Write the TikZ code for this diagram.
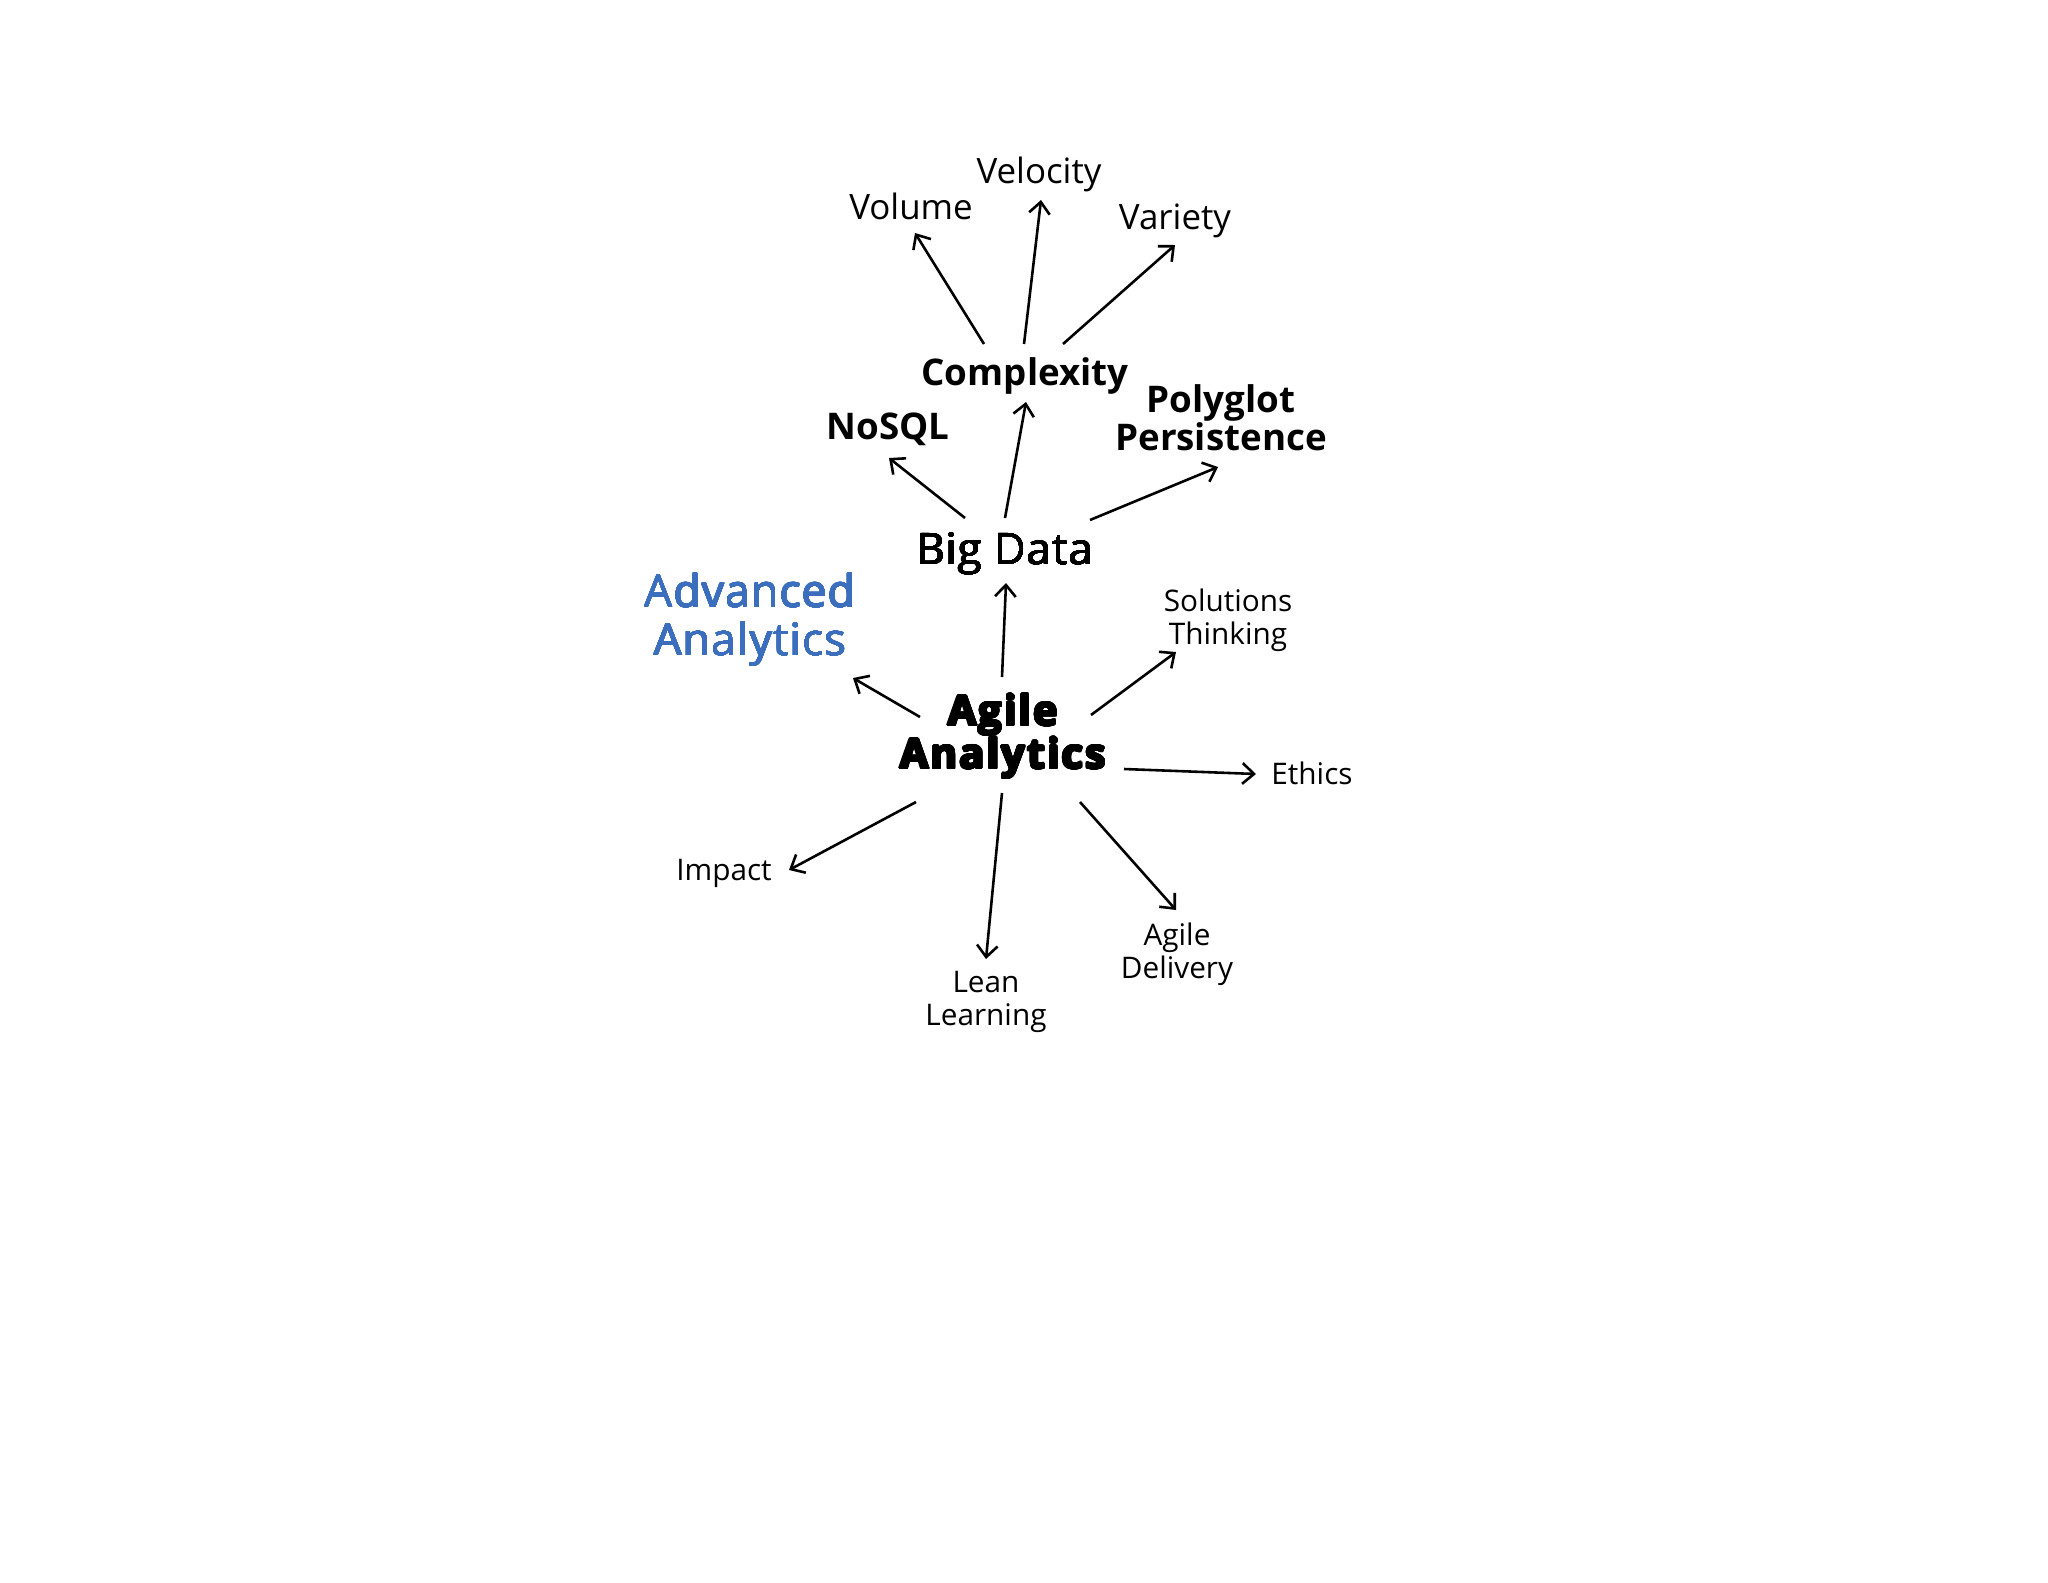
\documentclass[tikz,border=0pt]{standalone}
\usepackage{fontspec}
\usepackage[copies]{contour}
\setmainfont{Open Sans}
\newfontfamily\widefont{Open Sans}[LetterSpace=2.5]
\newfontfamily\heavyfont{Open Sans}[LetterSpace=5]
\usetikzlibrary{arrows.meta}
\definecolor{advblue}{HTML}{3C6EBE}
\contournumber{24}
\newcommand{\heavytext}[1]{\contourlength{0.42pt}\contour{black}{#1}}
\newcommand{\semitext}[2]{\contourlength{0.14pt}\contour{#1}{#2}}
\begin{document}
\begin{tikzpicture}[x=0.3867pt, y=-0.3867pt]
	\tikzstyle{small} = [align=center, inner sep=0pt, font=\fontsize{11.5}{12.6}\selectfont]
	\tikzstyle{mid} = [align=center, inner sep=0pt, font=\fontsize{13.5}{15}\selectfont]
	\tikzstyle{head} = [align=center, inner sep=0pt, font=\bfseries\fontsize{14.2}{14.6}\selectfont]
	\tikzstyle{arrow} = [line width=1pt, -{Straight Barb[length=4.5pt, width=8pt]}]
	\useasboundingbox [fill=white] (0,0) rectangle (2048,1582);

	% big data branch
	\node (vol) [mid] at (911,206) {Volume};
	\node (vel) [mid] at (1039,174) {Velocity};
	\node (var) [mid] at (1175,221) {Variety};
	\node (cx) [head] at (1025,376) {Complexity};
	\node (nosql) [head] at (888,429) {NoSQL};
	\node (poly) [head] at (1221,418) {Polyglot\\Persistence};
	\node (bd) [inner sep=0pt, font=\widefont\fontsize{16.8}{18}\selectfont] at (1005,554) {\semitext{black}{Big Data}};

	% agile analytics
	\node (adv) [align=center, inner sep=0pt, text=advblue, font=\widefont\fontsize{17.2}{18.7}\selectfont] at (750,620)
		{\semitext{advblue}{Advanced}\\\semitext{advblue}{Analytics}};
	\node (ag) [align=center, inner sep=0pt, font=\heavyfont\bfseries\fontsize{16}{16.7}\selectfont] at (1003,737)
		{\heavytext{Agile}\\\heavytext{Analytics}};
	\node (sol) [small] at (1228,620) {Solutions\\Thinking};
	\node (eth) [small] at (1312,773) {Ethics};
	\node (imp) [small] at (724,873) {Impact};
	\node (lean) [small] at (986,1002) {Lean\\Learning};
	\node (del) [small] at (1177,954) {Agile\\Delivery};

	\draw [arrow] ([shift={(-41,-32)}]cx.center) -- ([shift={(4,27)}]vol.center);
	\draw [arrow] ([shift={(-1,-32)}]cx.center) -- ([shift={(2,26)}]vel.center);
	\draw [arrow] ([shift={(38,-32)}]cx.center) -- ([shift={(0,24)}]var.center);
	\draw [arrow] ([shift={(-40,-36)}]bd.center) -- ([shift={(1,29)}]nosql.center);
	\draw [arrow] ([shift={(0,-36)}]bd.center) -- ([shift={(1,26)}]cx.center);
	\draw [arrow] ([shift={(85,-34)}]bd.center) -- ([shift={(-3,49)}]poly.center);
	\draw [arrow] ([shift={(-1,-60)}]ag.center) -- ([shift={(1,29)}]bd.center);
	\draw [arrow] ([shift={(-83,-20)}]ag.center) -- ([shift={(103,58)}]adv.center);
	\draw [arrow] ([shift={(88,-22)}]ag.center) -- ([shift={(-52,32)}]sol.center);
	\draw [arrow] ([shift={(121,32)}]ag.center) -- ([shift={(-56,1)}]eth.center);
	\draw [arrow] ([shift={(-87,65)}]ag.center) -- ([shift={(65,-3)}]imp.center);
	\draw [arrow] ([shift={(-1,56)}]ag.center) -- ([shift={(0,-43)}]lean.center);
	\draw [arrow] ([shift={(77,65)}]ag.center) -- ([shift={(-1,-44)}]del.center);
\end{tikzpicture}
\end{document}
